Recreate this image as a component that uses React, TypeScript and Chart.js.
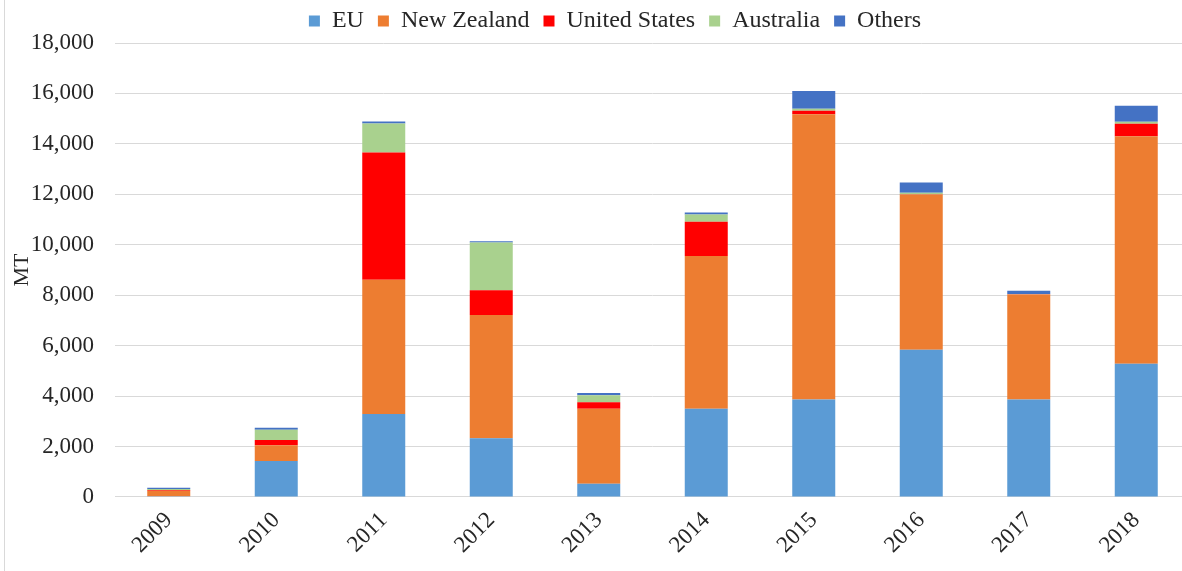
import React, { useEffect, useRef } from "react";
import { Chart, registerables } from "chart.js";

Chart.register(...registerables);

const years = ["2009", "2010", "2011", "2012", "2013", "2014", "2015", "2016", "2017", "2018"];
const euValues = [30, 1430, 3290, 2330, 520, 3500, 3860, 5840, 3860, 5280];
const newZealandValues = [220, 620, 5320, 4880, 2980, 6050, 11310, 6150, 4170, 9020];
const unitedStatesValues = [30, 210, 5050, 990, 260, 1360, 140, 10, 10, 500];
const australiaValues = [40, 400, 1150, 1890, 270, 290, 80, 60, 10, 80];
const othersValues = [50, 80, 80, 50, 90, 80, 710, 410, 130, 630];
const yTicks = [0, 2000, 4000, 6000, 8000, 10000, 12000, 14000, 16000, 18000];

const FONT = "'Liberation Serif', 'Times New Roman', serif";

export default function App() {
  const ref = useRef<HTMLCanvasElement | null>(null);

  useEffect(() => {
    if (!ref.current) return;
    const legendShift = {
      id: "legendShift",
      afterLayout(chart: any) {
        const l = chart.legend;
        if (l) {
          l.left += 20;
          l.right += 20;
        }
      },
    };
    const mk = (label: string, data: number[], color: string) => ({
      label,
      data,
      backgroundColor: color,
      borderWidth: 0,
      barPercentage: 0.4,
      categoryPercentage: 1,
    });
    const chart = new Chart(ref.current, {
      type: "bar",
      data: {
        labels: years,
        datasets: [
          mk("EU", euValues, "#5B9BD5"),
          mk("New Zealand", newZealandValues, "#ED7D31"),
          mk("United States", unitedStatesValues, "#FF0000"),
          mk("Australia", australiaValues, "#A9D18E"),
          mk("Others", othersValues, "#4472C4"),
        ],
      },
      options: {
        animation: false,
        responsive: true,
        maintainAspectRatio: false,
        layout: { padding: { top: -5, right: 10, bottom: 2, left: 0 } },
        plugins: {
          tooltip: { enabled: false },
          legend: {
            position: "top",
            labels: {
              boxWidth: 11,
              boxHeight: 11,
              padding: 14,
              color: "#262626",
              font: { family: FONT, size: 24 },
            },
          },
        },
        scales: {
          x: {
            stacked: true,
            grid: { display: false, drawTicks: false },
            border: { display: true, color: "#D9D9D9", width: 1 },
            ticks: {
              autoSkip: false,
              minRotation: 45,
              maxRotation: 45,
              padding: 10,
              color: "#262626",
              font: { family: FONT, size: 23 },
            },
          },
          y: {
            stacked: true,
            min: 0,
            max: 18000,
            afterBuildTicks: (axis: any) => {
              axis.ticks = yTicks.map((v) => ({ value: v }));
            },
            afterFit: (axis: any) => {
              axis.width = 115;
            },
            grid: { color: "#D9D9D9", drawTicks: false },
            border: { display: false },
            ticks: {
              padding: 21,
              color: "#262626",
              font: { family: FONT, size: 23 },
              callback: (v: any) => Number(v).toLocaleString("en-US"),
            },
            title: {
              display: true,
              text: "MT",
              color: "#262626",
              font: { family: FONT, size: 22 },
              padding: { top: 9, bottom: 0 },
            },
          },
        },
      },
      plugins: [legendShift],
    });
    return () => chart.destroy();
  }, []);

  return (
    <div
      style={{
        position: "fixed",
        left: 0,
        top: 0,
        width: 1182,
        height: 571,
        overflow: "hidden",
        background: "#ffffff",
      }}
    >
      <div style={{ position: "absolute", left: 4, top: 0, width: 1, height: 571, background: "#D9D9D9" }} />
      <div style={{ position: "absolute", left: 0, top: 0, width: 1200, height: 571 }}>
        <canvas ref={ref} />
      </div>
    </div>
  );
}
